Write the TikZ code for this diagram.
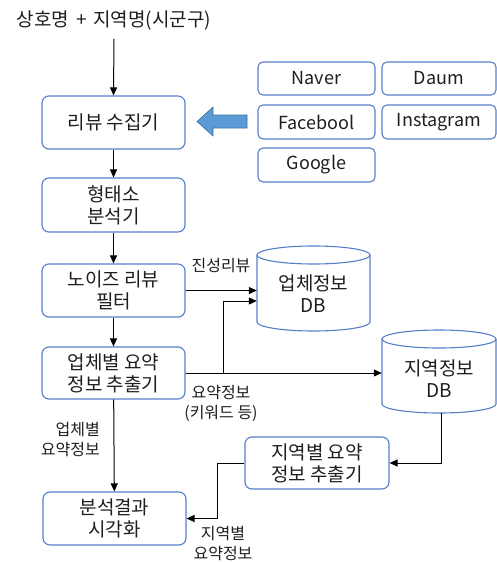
\documentclass[tikz,border=0pt]{standalone}
\usepackage{fontspec}
\setmainfont{Noto Sans CJK KR}
\usetikzlibrary{arrows.meta,calc}
\definecolor{boxblue}{RGB}{84,126,201}
\definecolor{arrfill}{RGB}{91,155,213}
\definecolor{arrline}{RGB}{65,113,156}
\definecolor{txt}{RGB}{30,30,30}
\begin{document}
\begin{tikzpicture}[x=1pt,y=-1pt,
  box/.style={draw=boxblue, line width=1.1pt, rounded corners=7pt, align=center,
    inner sep=0pt, text=txt, font=\fontsize{19}{22}\selectfont},
  mainbox/.style={box, minimum width=143pt, minimum height=53pt},
  srcbox/.style={box, rounded corners=5pt, minimum height=33pt, font=\fontsize{18}{20}\selectfont},
  lbl/.style={align=center, text=txt, inner sep=0pt, font=\fontsize{16}{20}\selectfont},
  arr/.style={draw=black, line width=1pt, -{Triangle[length=8pt,width=7pt]}},
  dbline/.style={draw=boxblue, line width=1.1pt}
]
\useasboundingbox (0,0) rectangle (497,562);

% title
\node[lbl, font=\fontsize{19}{20}\selectfont, inner ysep=8pt] (t) at (114,21) {상호명\hspace{0.35em}+\hspace{0.35em}지역명(시군구)};

% main column
\node[mainbox] (a) at (113.5,122.5) {리뷰 수집기};
\node[mainbox, minimum height=54pt] (b) at (113.5,205) {형태소\\분석기};
\node[mainbox] (c) at (113.5,290.5) {노이즈 리뷰\\필터};
\node[mainbox, minimum height=52pt] (d) at (113.5,373) {업체별 요약\\정보 추출기};
\node[mainbox] (e) at (114.5,518.5) {분석결과\\시각화};
\node[mainbox, minimum width=144pt, minimum height=52pt] (f) at (317,463) {지역별 요약\\정보 추출기};

% sources
\node[srcbox, minimum width=117pt] (naver) at (316.5,78.5) {Naver};
\node[srcbox, minimum width=114pt] (daum) at (439,78.5) {Daum};
\node[srcbox, minimum width=117pt, minimum height=34pt] (fb) at (316.5,122) {Facebool};
\node[srcbox, minimum width=114pt, minimum height=34pt] (insta) at (439,122) {Instagram};
\node[srcbox, minimum width=117pt, minimum height=34pt] (google) at (316.5,165) {Google};

% big blue arrow
\draw[fill=arrfill, draw=arrline, line width=0.6pt]
  (197,121.5) -- (213,107) -- (213,115) -- (247,115) -- (247,128) -- (213,128) -- (213,136) -- cycle;

% DB cylinders (anchor nodes)
\node[minimum width=113pt, minimum height=85pt, inner sep=0pt] (dbA) at (313.5,288.5) {};
\node[minimum width=114pt, minimum height=83pt, inner sep=0pt] (dbB) at (439,371.5) {};
\draw[dbline] (257,255) -- (257,322) arc[start angle=180, end angle=0, x radius=56.5, y radius=9] -- (370,255);
\draw[dbline] (313.5,255) ellipse [x radius=56.5, y radius=9];
\draw[dbline] (382,339) -- (382,404) arc[start angle=180, end angle=0, x radius=57, y radius=9] -- (496,339);
\draw[dbline] (439,339) ellipse [x radius=57, y radius=9];
\node[lbl, font=\fontsize{19}{22}\selectfont] (dbAt) at (313.5,294) {업체정보\\DB};
\node[lbl, font=\fontsize{19}{22}\selectfont] (dbBt) at (439,379) {지역정보\\DB};

% connectors
\draw[arr] (t.south) -- (a.north);
\draw[arr] (a) -- (b);
\draw[arr] (b) -- (c);
\draw[arr] (c) -- (d);
\draw[arr] (d) -- (e);
\draw[arr] (c.east) -- (c.east -| dbA.west);
\draw[arr] (d.east) -- (d.east -| dbB.west);
\coordinate (j) at (223,373);
\coordinate (jA) at ($(dbA.west)+(0,12.5)$);
\draw[arr] (j) |- (jA);
\coordinate (dbBout) at (441,413);
\draw[arr] (dbBout) |- (f.east);
\coordinate (k) at (217,463);
\draw[arr] (f.west) -- (k) |- (e.east);

% labels
\node[lbl] (l1) at (221,266) {진성리뷰};
\node[lbl] (l2) at (221,403) {요약정보\\(키워드 등)};
\node[lbl, align=right, anchor=east] (l3) at (100,440) {업체별\\요약정보};
\node[lbl] (l4) at (223,544) {지역별\\요약정보};
\end{tikzpicture}
\end{document}
